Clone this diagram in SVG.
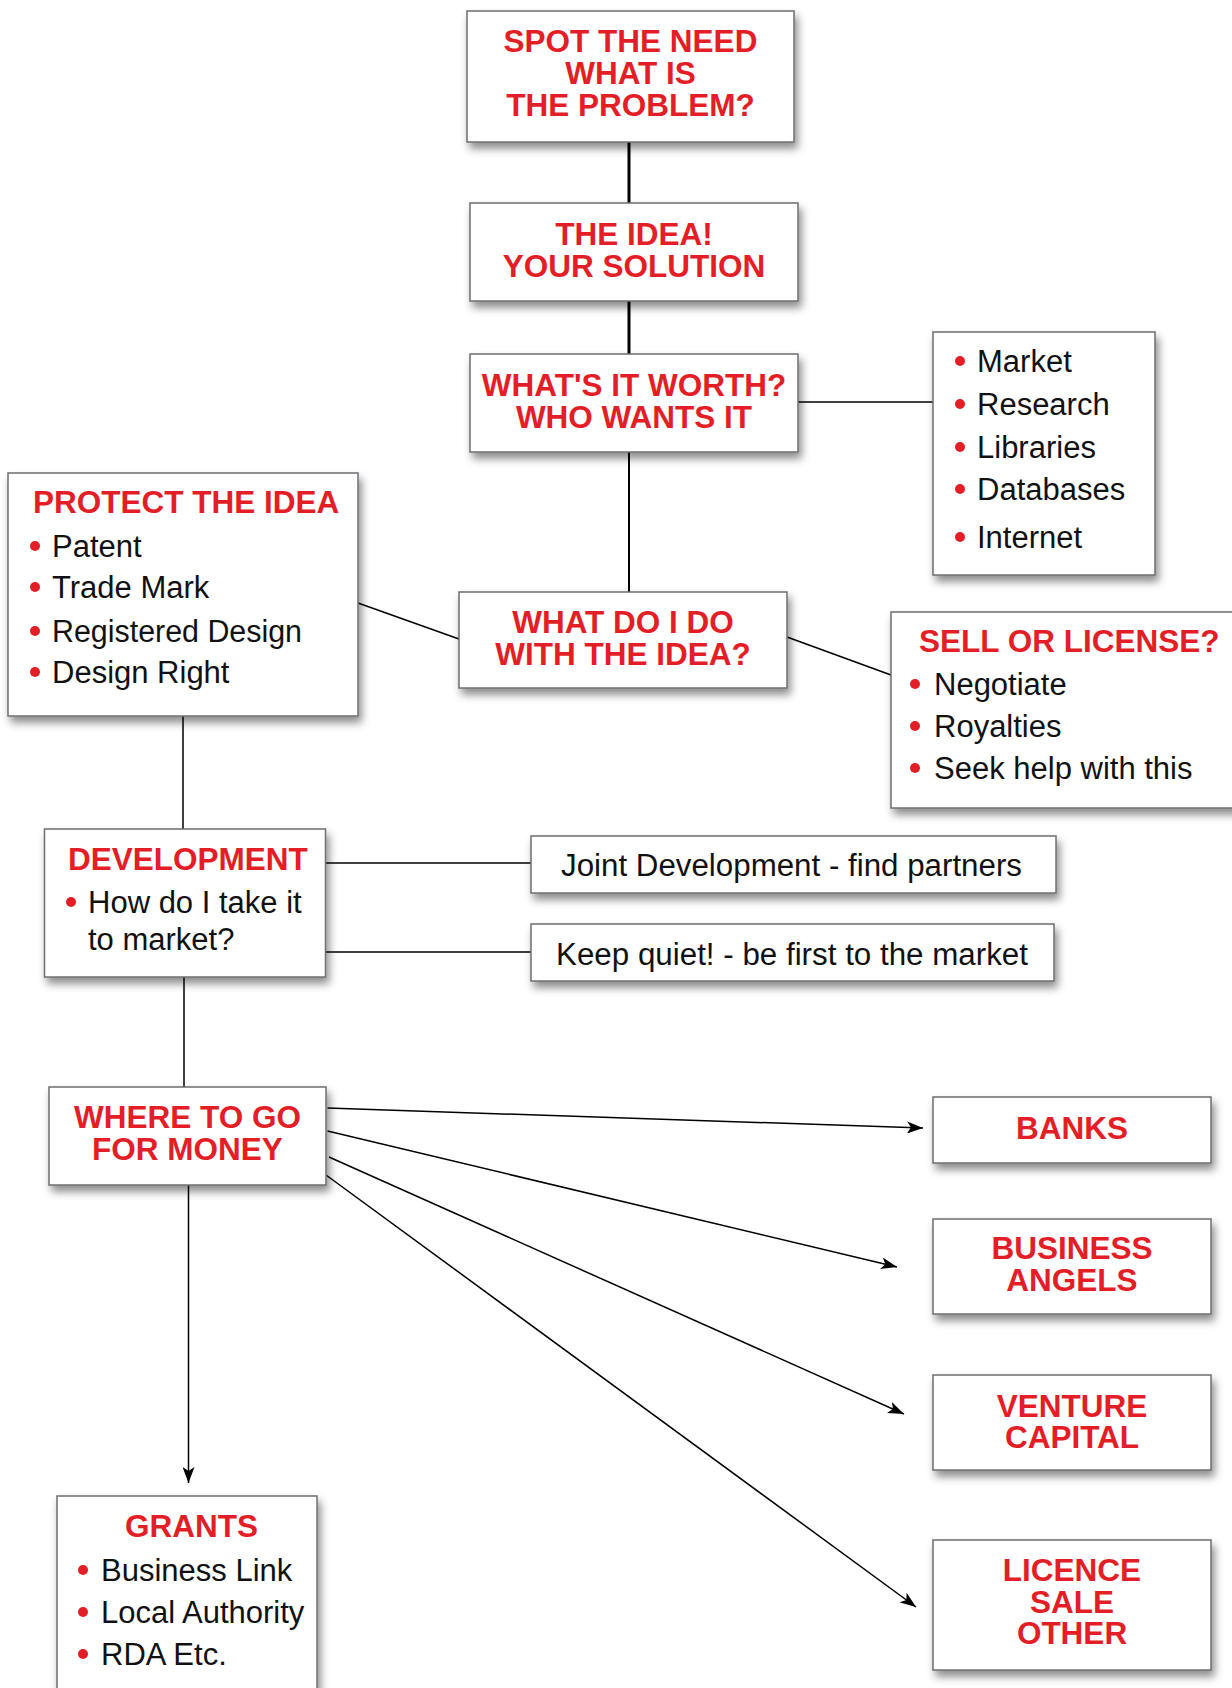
<svg xmlns="http://www.w3.org/2000/svg" width="1232" height="1688" viewBox="0 0 1232 1688">
<style>
.box{fill:#fff;stroke:#6d6e71;stroke-width:1.5;filter:url(#sh)}
.t{font-family:"Liberation Sans",Arial,sans-serif;font-weight:bold;font-size:31.5px;fill:#e31e26;text-anchor:middle}
.tl{font-family:"Liberation Sans",Arial,sans-serif;font-weight:bold;font-size:31.5px;fill:#e31e26}
.i{font-family:"Liberation Sans",Arial,sans-serif;font-size:31px;fill:#111}
.b{fill:#e31e26}
.c{stroke:#000;stroke-width:1.5;fill:none}
.a{stroke:#000;stroke-width:1.5;fill:none;marker-end:url(#ah)}
</style>
<defs>
<filter id="sh" x="-10%" y="-10%" width="130%" height="140%">
<feDropShadow dx="3" dy="6" stdDeviation="4" flood-color="#000" flood-opacity="0.45"/>
</filter>
<marker id="ah" viewBox="0 0 16 12" refX="16" refY="6" markerWidth="16" markerHeight="12" markerUnits="userSpaceOnUse" orient="auto">
<path d="M0,0 L16,6 L0,12 L4,6 Z" fill="#000"/>
</marker>
</defs>
<rect width="1232" height="1688" fill="#fff"/>
<g id="connectors">
<line class="c" x1="629" y1="142" x2="629" y2="203" style="stroke-width:3"/>
<line class="c" x1="629" y1="301" x2="629" y2="354" style="stroke-width:3"/>
<line class="c" x1="629" y1="452" x2="629" y2="592" style="stroke-width:2"/>
<line class="c" x1="798" y1="402" x2="933" y2="402"/>
<line class="c" x1="358" y1="603" x2="459" y2="639"/>
<line class="c" x1="787" y1="637" x2="891" y2="675"/>
<line class="c" x1="183" y1="716" x2="183" y2="829"/>
<line class="c" x1="326" y1="863" x2="531" y2="863"/>
<line class="c" x1="326" y1="952" x2="531" y2="952"/>
<line class="c" x1="184" y1="977" x2="184" y2="1087"/>
<line class="a" x1="327.5" y1="1108" x2="923" y2="1128"/>
<line class="a" x1="327.5" y1="1131" x2="897" y2="1267"/>
<line class="a" x1="329" y1="1157" x2="904" y2="1414"/>
<line class="a" x1="326" y1="1175" x2="916" y2="1607"/>
<line class="a" x1="188.5" y1="1185" x2="188.5" y2="1483"/>
</g>
<g id="spot">
<rect class="box" x="467" y="11" width="327" height="131"/>
<text class="t" x="630.5" y="52">SPOT THE NEED</text>
<text class="t" x="630.5" y="84">WHAT IS</text>
<text class="t" x="630.5" y="116">THE PROBLEM?</text>
</g>
<g id="idea">
<rect class="box" x="470" y="203" width="328" height="98"/>
<text class="t" x="634" y="245">THE IDEA!</text>
<text class="t" x="634" y="277">YOUR SOLUTION</text>
</g>
<g id="worth">
<rect class="box" x="470" y="354" width="328" height="98"/>
<text class="t" x="634" y="396">WHAT'S IT WORTH?</text>
<text class="t" x="634" y="428">WHO WANTS IT</text>
</g>
<g id="market">
<rect class="box" x="933" y="332" width="222" height="243"/>
<circle class="b" cx="960" cy="361" r="5"/><text class="i" x="977" y="372">Market</text>
<circle class="b" cx="960" cy="404" r="5"/><text class="i" x="977" y="415">Research</text>
<circle class="b" cx="960" cy="447" r="5"/><text class="i" x="977" y="458">Libraries</text>
<circle class="b" cx="960" cy="489" r="5"/><text class="i" x="977" y="500">Databases</text>
<circle class="b" cx="960" cy="537" r="5"/><text class="i" x="977" y="548">Internet</text>
</g>
<g id="protect">
<rect class="box" x="8" y="473" width="350" height="243"/>
<text class="tl" x="33" y="513">PROTECT THE IDEA</text>
<circle class="b" cx="35" cy="546" r="5"/><text class="i" x="52" y="557">Patent</text>
<circle class="b" cx="35" cy="587" r="5"/><text class="i" x="52" y="598">Trade Mark</text>
<circle class="b" cx="35" cy="631" r="5"/><text class="i" x="52" y="642" textLength="250" lengthAdjust="spacingAndGlyphs">Registered Design</text>
<circle class="b" cx="35" cy="672" r="5"/><text class="i" x="52" y="683">Design Right</text>
</g>
<g id="whatdo">
<rect class="box" x="459" y="592" width="328" height="96"/>
<text class="t" x="623" y="633">WHAT DO I DO</text>
<text class="t" x="623" y="665">WITH THE IDEA?</text>
</g>
<g id="sell">
<rect class="box" x="891" y="612" width="350" height="196"/>
<text class="tl" x="919" y="652">SELL OR LICENSE?</text>
<circle class="b" cx="915" cy="684" r="5"/><text class="i" x="934" y="695">Negotiate</text>
<circle class="b" cx="915" cy="726" r="5"/><text class="i" x="934" y="737">Royalties</text>
<circle class="b" cx="915" cy="768" r="5"/><text class="i" x="934" y="779">Seek help with this</text>
</g>
<g id="development">
<rect class="box" x="44.5" y="829" width="281" height="148"/>
<text class="tl" x="68" y="870">DEVELOPMENT</text>
<circle class="b" cx="71" cy="902" r="5"/><text class="i" x="88" y="913">How do I take it</text>
<text class="i" x="88" y="950">to market?</text>
</g>
<g id="joint">
<rect class="box" x="531" y="836" width="525" height="57"/>
<text class="i" x="561" y="876" textLength="461" lengthAdjust="spacingAndGlyphs">Joint Development - find partners</text>
</g>
<g id="keep">
<rect class="box" x="531" y="924" width="523" height="57"/>
<text class="i" x="556" y="965" textLength="472" lengthAdjust="spacingAndGlyphs">Keep quiet! - be first to the market</text>
</g>
<g id="where">
<rect class="box" x="49" y="1087" width="277" height="98"/>
<text class="t" x="187.5" y="1128">WHERE TO GO</text>
<text class="t" x="187.5" y="1160">FOR MONEY</text>
</g>
<g id="banks">
<rect class="box" x="933" y="1097" width="278" height="66"/>
<text class="t" x="1072" y="1139">BANKS</text>
</g>
<g id="angels">
<rect class="box" x="933" y="1219" width="278" height="95"/>
<text class="t" x="1072" y="1259">BUSINESS</text>
<text class="t" x="1072" y="1291">ANGELS</text>
</g>
<g id="venture">
<rect class="box" x="933" y="1375" width="278" height="95"/>
<text class="t" x="1072" y="1417">VENTURE</text>
<text class="t" x="1072" y="1448">CAPITAL</text>
</g>
<g id="licence">
<rect class="box" x="933" y="1540" width="278" height="130"/>
<text class="t" x="1072" y="1581">LICENCE</text>
<text class="t" x="1072" y="1613">SALE</text>
<text class="t" x="1072" y="1644">OTHER</text>
</g>
<g id="grants">
<rect class="box" x="57" y="1496" width="260" height="210"/>
<text class="t" x="191.5" y="1537">GRANTS</text>
<circle class="b" cx="83" cy="1570" r="5"/><text class="i" x="101" y="1581">Business Link</text>
<circle class="b" cx="83" cy="1612" r="5"/><text class="i" x="101" y="1623">Local Authority</text>
<circle class="b" cx="83" cy="1654" r="5"/><text class="i" x="101" y="1665">RDA Etc.</text>
</g>
</svg>
